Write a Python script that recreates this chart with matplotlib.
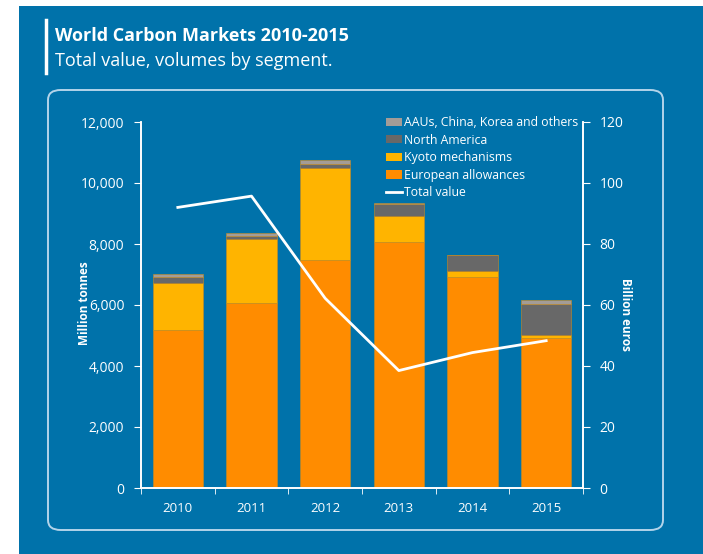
import numpy as np
import matplotlib.pyplot as plt
from matplotlib.patches import Rectangle, FancyBboxPatch, Patch
from matplotlib.lines import Line2D
from matplotlib.ticker import FuncFormatter

YEARS      = ["2010", "2011", "2012", "2013", "2014", "2015"]
EUROPEAN   = [5180, 6080, 7480, 8080, 6930, 4910]     ## million tonnes
KYOTO      = [1530, 2070, 3020, 840, 200, 100]
N_AMERICA  = [220, 110, 110, 390, 500, 1030]
AAU_OTHERS = [100, 90, 140, 20, 20, 130]
TOTAL_VAL  = [92.0, 95.7, 62.2, 38.5, 44.4, 48.3]      ## billion euros

BLUE   = "#0072AA"
C_EU   = "#FF8C00"
C_KY   = "#FFB400"
C_NA   = "#686868"
C_AAU  = "#A39C97"
FONT   = ["Open Sans", "DejaVu Sans"]

plt.rcParams['font.family'] = FONT

fig = plt.figure(figsize=(7.03, 5.54), dpi=100)
W, H = 703, 554
fig.patches.append(Rectangle((19/W, 0), 1-19/W, 1-6/H, transform=fig.transFigure, fc=BLUE, ec="none", zorder=-10))
fig.patches.append(FancyBboxPatch((48/W, 1-530/H), (663-48)/W, (530-90)/H, boxstyle="round,pad=0,rounding_size=0.018",
                                  transform=fig.transFigure, fc="none", ec="#B3D4EA", lw=1.4, zorder=-5))
fig.add_artist(Line2D([46/W, 46/W], [1-20/H, 1-73/H], color="white", lw=2.5, transform=fig.transFigure))
fig.text(55/W, 1-36/H, "World Carbon Markets 2010-2015", color="white", fontsize=13, fontweight="bold", va="center")
fig.text(55/W, 1-61/H, "Total value, volumes by segment.", color="white", fontsize=13, va="center")

ax = fig.add_axes([141/W, 1-488/H, (583-141)/W, (488-122)/H])
ax.set_facecolor("none")
x = np.arange(len(YEARS))
bw = 0.68
bottom = np.zeros(len(YEARS))
for vals, col, lab in [(EUROPEAN, C_EU, "European allowances"), (KYOTO, C_KY, "Kyoto mechanisms"),
                       (N_AMERICA, C_NA, "North America"), (AAU_OTHERS, C_AAU, "AAUs, China, Korea and others")]:
    ax.bar(x, vals, bw, bottom=bottom, color=col, edgecolor="#C98A20", linewidth=0.4, label=lab, zorder=2)
    bottom += np.array(vals)

ax.set_xlim(-0.5, len(YEARS) - 0.5)
ax.set_ylim(0, 12000)
ax.set_yticks(np.arange(0, 12001, 2000))
ax.yaxis.set_major_formatter(FuncFormatter(lambda v, p: f"{int(v):,}"))
ax.set_xticks(x)
ax.set_xticklabels(YEARS)
ax.set_xticks(np.arange(-0.5, len(YEARS), 1), minor=True)
ax.tick_params(axis="x", which="major", length=0, pad=10, colors="white", labelsize=9.5)
ax.tick_params(axis="x", which="minor", length=4, color="white", direction="out")
ax.tick_params(axis="y", length=5, color="white", labelcolor="white", labelsize=10, pad=7)
ax.set_ylabel("Million tonnes", color="white", fontsize=8.5, fontweight="bold", va="center")
ax.yaxis.set_label_coords((84-141)/442, (488-303)/366)
for s in ["top"]:
    ax.spines[s].set_visible(False)
for s in ["left", "bottom", "right"]:
    ax.spines[s].set_color("white"); ax.spines[s].set_linewidth(1.2)

ax2 = ax.twinx()
ax2.plot(x, TOTAL_VAL, color="white", lw=2, zorder=3)
ax2.set_ylim(0, 120)
ax2.set_yticks(np.arange(0, 121, 20))
ax2.tick_params(axis="y", length=5, color="white", labelcolor="white", labelsize=10, pad=7)
ax2.set_ylabel("Billion euros", color="white", fontsize=8.5, fontweight="bold", rotation=270, va="center")
ax2.yaxis.set_label_coords(1 + (626-583)/442, (488-315)/366)
ax2.spines["top"].set_visible(False)
for s in ["left", "bottom", "right"]:
    ax2.spines[s].set_color("white"); ax2.spines[s].set_linewidth(1.2)

handles = [Patch(fc=C_AAU), Patch(fc=C_NA), Patch(fc=C_KY), Patch(fc=C_EU), Line2D([], [], color="white", lw=2)]
labels = ["AAUs, China, Korea and others", "North America", "Kyoto mechanisms", "European allowances", "Total value"]
leg = ax2.legend(handles, labels, loc="upper left", bbox_to_anchor=((381-141)/(583-141), 1.03), frameon=False,
                 fontsize=8.8, labelcolor="white", handlelength=1.3, handleheight=0.65, handletextpad=0.15,
                 labelspacing=0.38, borderaxespad=0)
leg.set_zorder(5)

plt.savefig("out.png", dpi=100, facecolor="white")
